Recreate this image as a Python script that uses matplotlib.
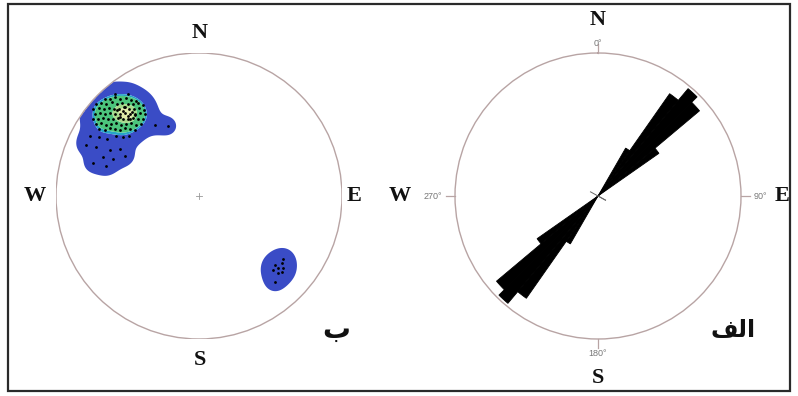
import numpy as np
import matplotlib
matplotlib.use("Agg")
import matplotlib.pyplot as plt
from matplotlib.patches import Circle, Rectangle

# ---- pole data: equal-area projection, unit circle (x = east, y = north) ----
# main (NW) cluster: dense core
core_x = [-0.66, -0.62, -0.585, -0.55, -0.51, -0.475, -0.44,
          -0.72, -0.685, -0.65, -0.61, -0.575, -0.54, -0.50, -0.465, -0.43, -0.395,
          -0.74, -0.70, -0.665, -0.63, -0.595, -0.56, -0.525, -0.49, -0.455, -0.42, -0.385,
          -0.73, -0.69, -0.655, -0.62, -0.585, -0.55, -0.515, -0.48, -0.445, -0.41, -0.375,
          -0.74, -0.705, -0.67, -0.635, -0.60, -0.565, -0.53, -0.495, -0.46, -0.425, -0.39,
          -0.72, -0.685, -0.65, -0.615, -0.58, -0.545, -0.51, -0.475, -0.44, -0.405,
          -0.70, -0.66, -0.62, -0.585, -0.55, -0.515, -0.48, -0.445,
          -0.53, -0.50, -0.47, -0.55, -0.515, -0.485, -0.445, -0.57]
core_y = [0.68, 0.675, 0.69, 0.68, 0.685, 0.67, 0.665,
          0.645, 0.65, 0.64, 0.655, 0.64, 0.65, 0.645, 0.64, 0.65, 0.635,
          0.61, 0.615, 0.605, 0.615, 0.61, 0.605, 0.62, 0.61, 0.605, 0.615, 0.60,
          0.575, 0.58, 0.57, 0.58, 0.575, 0.57, 0.58, 0.575, 0.57, 0.58, 0.57,
          0.54, 0.535, 0.545, 0.54, 0.535, 0.545, 0.54, 0.535, 0.545, 0.54, 0.535,
          0.505, 0.51, 0.50, 0.505, 0.51, 0.50, 0.505, 0.51, 0.50, 0.505,
          0.47, 0.465, 0.475, 0.47, 0.465, 0.475, 0.47, 0.465,
          0.595, 0.56, 0.59, 0.555, 0.625, 0.535, 0.565, 0.60]
# main cluster: scattered poles around the core
halo_x = [-0.76, -0.70, -0.64, -0.58, -0.53, -0.49, -0.79, -0.72, -0.62, -0.55,
          -0.67, -0.60, -0.52, -0.74, -0.65,
          -0.50, -0.59, -0.31, -0.22]
halo_y = [0.42, 0.41, 0.40, 0.42, 0.41, 0.42, 0.36, 0.34, 0.32, 0.33,
          0.27, 0.26, 0.28, 0.23, 0.21,
          0.71, 0.71, 0.50, 0.49]
# minor (SE) cluster
se_x = [0.53, 0.58, 0.55, 0.52, 0.58, 0.55, 0.59, 0.53, 0.59]
se_y = [-0.48, -0.47, -0.50, -0.52, -0.53, -0.54, -0.50, -0.60, -0.44]

# ---- rose diagram: 5-degree bins (start azimuth) and frequency ----
rose_bins = [30, 35, 40, 45, 50]
rose_freq = [5.8, 13.1, 14.7, 13.9, 7.8]
rose_rmax = 15.0
rose_bin_width = 5

# density contour classes (lowest absolute, the rest as fractions of the peak)
base_level = 0.5
level_fracs = [0.36, 0.44, 0.8, 0.92]
contour_colors = ['#3a4cc6', '#25a4c8', '#4cc47c', '#a6d98a', '#dfeaa8']
kernel_sigma = 0.05

W_PX, H_PX = 798, 396


def fx(px):
    return px / W_PX


def fy(py):
    return 1 - py / H_PX


fig = plt.figure(figsize=(W_PX / 100, H_PX / 100), dpi=100)
fig.patch.set_facecolor('white')

# outer frame
fig.patches.append(Rectangle((fx(8), fy(391)), fx(790) - fx(8), fy(4) - fy(391),
                             transform=fig.transFigure, fill=False,
                             edgecolor='#2a2a2a', linewidth=1.6))

circle_col = '#b8a4a4'
R_PX = 143

# ---------------- stereonet (left) ----------------
ax1 = fig.add_axes([fx(199 - R_PX), fy(196 + R_PX), 2 * R_PX / W_PX, 2 * R_PX / H_PX])
ax1.set_xlim(-1, 1)
ax1.set_ylim(-1, 1)
ax1.axis('off')

px_all = np.array(core_x + halo_x + se_x)
py_all = np.array(core_y + halo_y + se_y)
g = np.linspace(-1, 1, 400)
GX, GY = np.meshgrid(g, g)
dens = np.zeros_like(GX)
for xx, yy in zip(px_all, py_all):
    dens += np.exp(-((GX - xx) ** 2 + (GY - yy) ** 2) / (2 * kernel_sigma ** 2))
dens = np.ma.masked_where(GX ** 2 + GY ** 2 > 1, dens)
peak = dens.max()
levels = [base_level] + [f * peak for f in level_fracs] + [peak * 2]
ax1.contourf(GX, GY, dens, levels=levels, colors=contour_colors, antialiased=True)
ax1.scatter(px_all, py_all, s=4, c='black', linewidths=0, zorder=3)
ax1.add_patch(Circle((0, 0), 1, fill=False, edgecolor=circle_col, linewidth=1.0, zorder=4))
ax1.plot([-0.02, 0.02], [0, 0], color='#999999', lw=0.6)
ax1.plot([0, 0], [-0.02, 0.02], color='#999999', lw=0.6)

# ---------------- rose diagram (right) ----------------
ax2 = fig.add_axes([fx(598 - R_PX), fy(196 + R_PX), 2 * R_PX / W_PX, 2 * R_PX / H_PX],
                   projection='polar')
ax2.set_theta_zero_location('N')
ax2.set_theta_direction(-1)
ax2.set_ylim(0, rose_rmax)
ax2.grid(False)
ax2.set_xticks([])
ax2.set_yticks([])
ax2.spines['polar'].set_color(circle_col)
ax2.spines['polar'].set_linewidth(1.0)

bins = np.array(rose_bins, dtype=float)
freq = np.array(rose_freq)
for offset in (0, 180):
    ax2.bar(np.radians(bins + offset), freq, width=np.radians(rose_bin_width),
            align='edge', color='black', edgecolor='black', linewidth=0.6)

# small center cross
cross_az = np.radians([119, 299])
ax2.plot(cross_az, [0.9, 0.9], color='#666666', lw=0.7)
ax2.plot([cross_az[0], 0], [0.9, 0], color='#666666', lw=0.7)

# cardinal ticks
for az in (0, 90, 180, 270):
    ax2.plot([np.radians(az)] * 2, [rose_rmax, rose_rmax * 1.06], color=circle_col,
             lw=0.9, clip_on=False)

# ---------------- labels ----------------
card = dict(family='Liberation Serif', fontweight='bold', fontsize=16,
            ha='center', va='center', color='#111111')
fig.text(fx(200), fy(33), 'N', **card)
fig.text(fx(35), fy(196), 'W', **card)
fig.text(fx(354), fy(196), 'E', **card)
fig.text(fx(200), fy(360), 'S', **card)

fig.text(fx(598), fy(20), 'N', **card)
fig.text(fx(400), fy(196), 'W', **card)
fig.text(fx(782), fy(196), 'E', **card)
fig.text(fx(598), fy(378), 'S', **card)

deg = dict(family='Liberation Sans', fontsize=6.5, ha='center', va='center', color='#777777')
fig.text(fx(598), fy(43), '0°', **deg)
fig.text(fx(433), fy(196), '270°', **deg)
fig.text(fx(760), fy(196), '90°', **deg)
fig.text(fx(598), fy(353), '180°', **deg)

fa = dict(family='DejaVu Sans', fontweight='bold', ha='center', va='center', color='#111111')
fig.text(fx(336), fy(330), '\uFE8F', fontsize=20, **fa)
fig.text(fx(733), fy(330), '\uFED2\uFEDF\uFE8D', fontsize=17, **fa)

fig.savefig('out.png', dpi=100, facecolor='white')
